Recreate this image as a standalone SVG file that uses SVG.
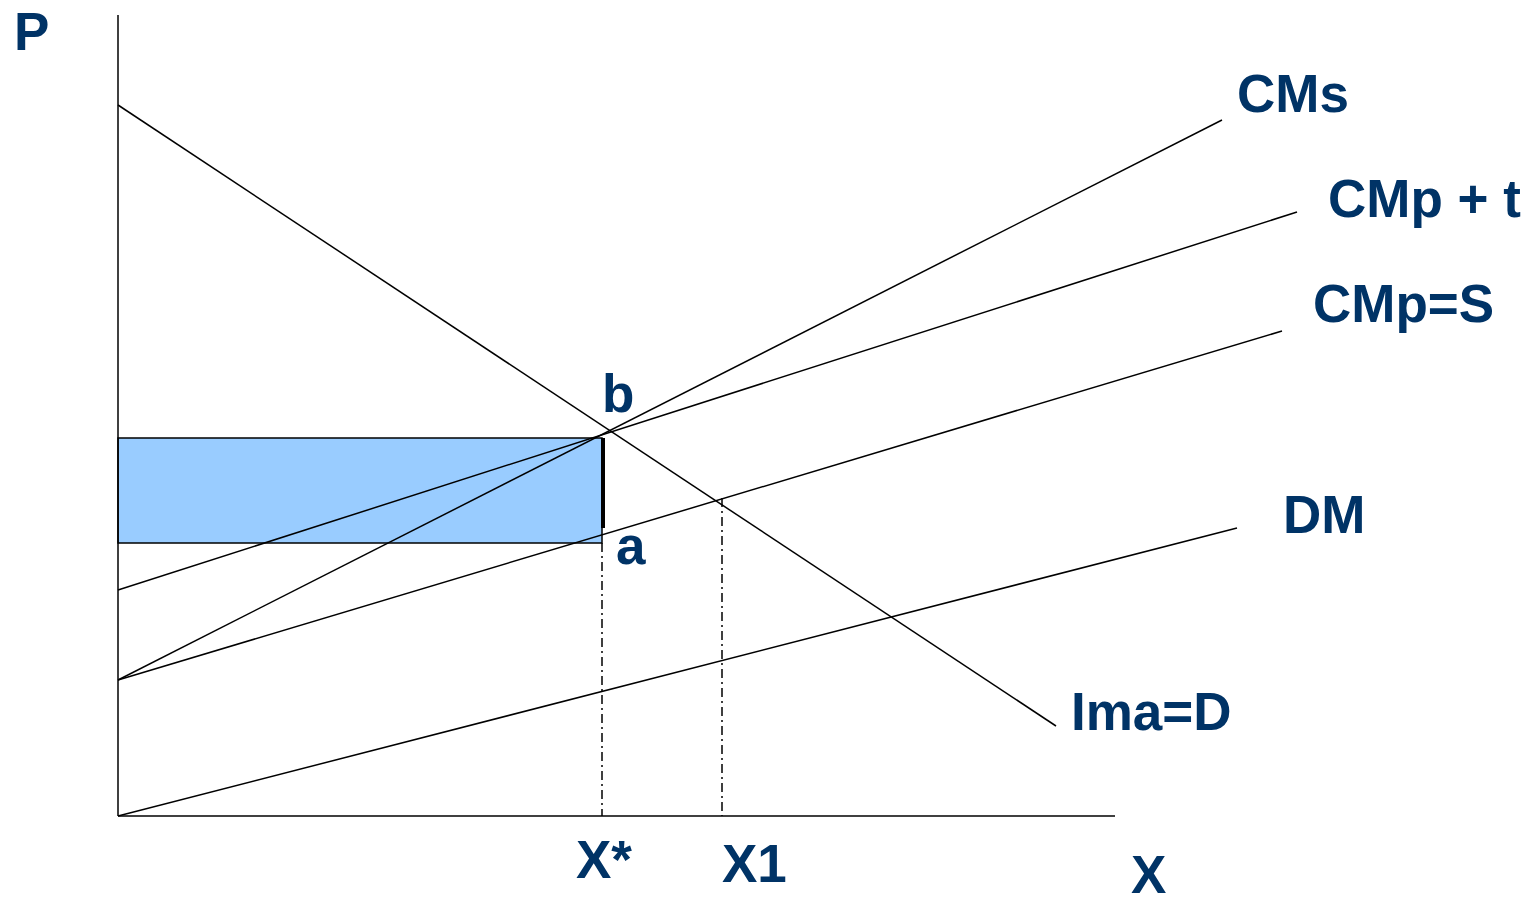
<svg xmlns="http://www.w3.org/2000/svg" width="1537" height="899" viewBox="0 0 1537 899">
<style>
.ln{stroke:#000;stroke-width:1.5;fill:none}
.dd{stroke:#000;stroke-width:1.5;fill:none;stroke-dasharray:9 4 2 4}
.lb{font-family:"Liberation Sans",Arial,sans-serif;font-weight:bold;font-size:53px;fill:#003366}
</style>
<rect x="0" y="0" width="1537" height="899" fill="#fff"/>
<g id="area">
<rect x="118" y="438" width="484" height="105" fill="#99CCFF" stroke="#000" stroke-width="1.5"/>
<line x1="603" y1="438" x2="603" y2="528" stroke="#000" stroke-width="4"/>
</g>
<g id="connectors">
<line class="ln" x1="118" y1="15" x2="118" y2="816"/>
<line class="ln" x1="118" y1="816" x2="1115" y2="816"/>
<line class="ln" x1="118" y1="105" x2="1056" y2="726"/>
<line class="ln" x1="118" y1="680" x2="1222" y2="120"/>
<line class="ln" x1="118" y1="590" x2="1297" y2="212"/>
<line class="ln" x1="118" y1="680" x2="1282" y2="331"/>
<line class="ln" x1="118" y1="816" x2="1237" y2="528"/>
<line class="dd" x1="602" y1="543" x2="602" y2="816"/>
<line class="dd" x1="722" y1="498" x2="722" y2="816"/>
</g>
<g id="labels">
<text class="lb" x="14" y="50">P</text>
<text class="lb" x="1131" y="893">X</text>
<text class="lb" x="576" y="878">X*</text>
<text class="lb" x="722" y="882">X1</text>
<text class="lb" x="1237" y="112">CMs</text>
<text class="lb" x="1328" y="217">CMp + t</text>
<text class="lb" x="1313" y="322">CMp=S</text>
<text class="lb" x="1283" y="533">DM</text>
<text class="lb" x="1071" y="730">Ima=D</text>
<text class="lb" x="602" y="412">b</text>
<text class="lb" x="616" y="564">a</text>
</g>
</svg>
